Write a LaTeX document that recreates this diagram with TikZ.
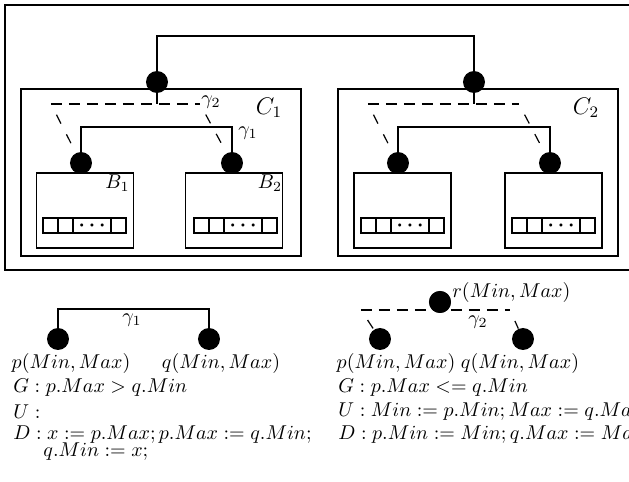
\documentclass[tikz,border=0pt]{standalone}
\usepackage{tikz}
\usetikzlibrary{positioning}

\tikzset{
  port/.style={circle, fill=black, inner sep=0pt, minimum size=11pt},
  cbox/.style={draw, line width=0.6pt, inner sep=0pt, outer sep=0pt},
  slot/.style={draw, line width=0.6pt, inner sep=0pt, outer sep=0pt,
    minimum height=7.5pt, anchor=west},
  gone/.style={line width=0.6pt},
  gtwo/.style={line width=0.6pt, dash pattern=on 5.5pt off 3.5pt},
  gtwodiag/.style={line width=0.6pt, dash pattern=on 5pt off 6pt, dash phase=5pt},
  txt/.style={inner sep=0pt, anchor=west},
}

% one row of slots inside a block: name, west end
\newcommand{\slotrow}[3]{%
  \node[slot, minimum width=7.5pt] (#1a) at (#2,#3) {};
  \node[slot, minimum width=7.5pt] (#1b) at (#1a.east) {};
  \node[slot, minimum width=19pt]  (#1c) at (#1b.east) {{\boldmath$\cdots$}};
  \node[slot, minimum width=7.5pt] (#1d) at (#1c.east) {};
}

\begin{document}
\begin{tikzpicture}[x=0.5pt, y=-0.5pt]
  \useasboundingbox (0,0) rectangle (629,482);

  % Outer frame
  \draw[line width=0.6pt] (5,5) rectangle (640,270);

  % Clusters
  \node[cbox, minimum width=140pt, minimum height=83.5pt] (C1) at (161,172.5) {};
  \node[cbox, minimum width=140pt, minimum height=83.5pt] (C2) at (478,172.5) {};
  \node (c1lab) at (269,108) {\large $C_1$};
  \node (c2lab) at (586,108) {\large $C_2$};

  % Blocks
  \node[cbox, minimum width=48.5pt, minimum height=37.5pt] (B1) at (85,210.5) {};
  \node[cbox, minimum width=48.5pt, minimum height=37.5pt] (B2) at (234,210.5) {};
  \node[cbox, minimum width=48.5pt, minimum height=37.5pt] (B3) at (402.5,210.5) {};
  \node[cbox, minimum width=48.5pt, minimum height=37.5pt] (B4) at (553.5,210.5) {};
  \node (b1lab) at (117.5,183) {$B_1$};
  \node (b2lab) at (270,183) {$B_2$};

  % Slots
  \slotrow{s1}{43}{225.5}
  \slotrow{s2}{194}{225.5}
  \slotrow{s3}{361}{225.5}
  \slotrow{s4}{512}{225.5}

  % Ports
  \node[port] (c1p) at (157,82) {};
  \node[port] (c2p) at (474,82) {};
  \node[port] (b1p) at (81,163) {};
  \node[port] (b2p) at (232,163) {};
  \node[port] (b3p) at (398,163) {};
  \node[port] (b4p) at (550,163) {};

  % Top link
  \coordinate (top) at (315,36);
  \draw[gone] (c1p) |- (top) -| (c2p);

  % gamma_1 links
  \coordinate (g1c1) at (156,127);
  \coordinate (g1c2) at (474,127);
  \draw[gone] (b1p) |- (g1c1) -| (b2p);
  \draw[gone] (b3p) |- (g1c2) -| (b4p);
  \node (g1lab) at (248,133) {$\gamma_1$};

  % gamma_2 links (dashed)
  \coordinate (g2l1) at (51,104);
  \coordinate (g2r1) at (200,104);
  \coordinate (g2l2) at (368,104);
  \coordinate (g2r2) at (519,104);
  \draw[gtwo] (g2l1) -- (g2r1);
  \draw[gtwo] (g2l2) -- (g2r2);
  \draw[gtwodiag] (g2l1) -- (b1p);
  \draw[gtwodiag] (g2r1) -- (b2p);
  \draw[gtwodiag] (g2l2) -- (b3p);
  \draw[gtwodiag] (g2r2) -- (b4p);
  \draw[gone] (c1p) -- (c1p |- g2l1);
  \draw[gone] (c2p) -- (c2p |- g2l2);
  \node (g2lab) at (211,102) {$\gamma_2$};

  % Rule gamma_1
  \node[port] (pl) at (58,339) {};
  \node[port] (ql) at (209,339) {};
  \coordinate (g1b) at (133,309);
  \draw[gone] (pl) |- (g1b) -| (ql);
  \node (g1blab) at (132,320) {$\gamma_1$};
  \node (pllab) at (71,364) {$p(Min, Max)$};
  \node (qllab) at (221,364) {$q(Min, Max)$};
  \node[txt] (gl) at (13,388) {$G : p.Max > q.Min$};
  \node[txt] (ul) at (13,412) {$U :$};
  \node[txt, align=left] (dl) at (13,443)
    {$D : x := p.Max; p.Max := q.Min;$\\[-3.5pt]\hspace*{15pt}$q.Min := x;$};

  % Rule gamma_2
  \node[port] (rr) at (440,302) {};
  \node[port] (pr) at (380,339) {};
  \node[port] (qr) at (523,339) {};
  \coordinate (g2c) at (361,310);
  \coordinate (g2d) at (510,310);
  \draw[gtwo] (g2c) -- (g2d);
  \draw[gtwodiag] (g2c) -- (pr);
  \draw[gtwodiag] (g2d) -- (qr);
  \node[port] (rr) at (440,302) {};
  \node[txt] (rrlab) at (452,293) {$r(Min, Max)$};
  \node (g2blab) at (478,322) {$\gamma_2$};
  \node (prlab) at (396,364) {$p(Min, Max)$};
  \node (qrlab) at (520,364) {$q(Min, Max)$};
  \node[txt] (gr) at (338,388) {$G : p.Max <= q.Min$};
  \node[txt] (ur) at (338,412) {$U : Min := p.Min; Max := q.Max$};
  \node[txt] (dr) at (338,435) {$D : p.Min := Min; q.Max := Max$};
\end{tikzpicture}
\end{document}
